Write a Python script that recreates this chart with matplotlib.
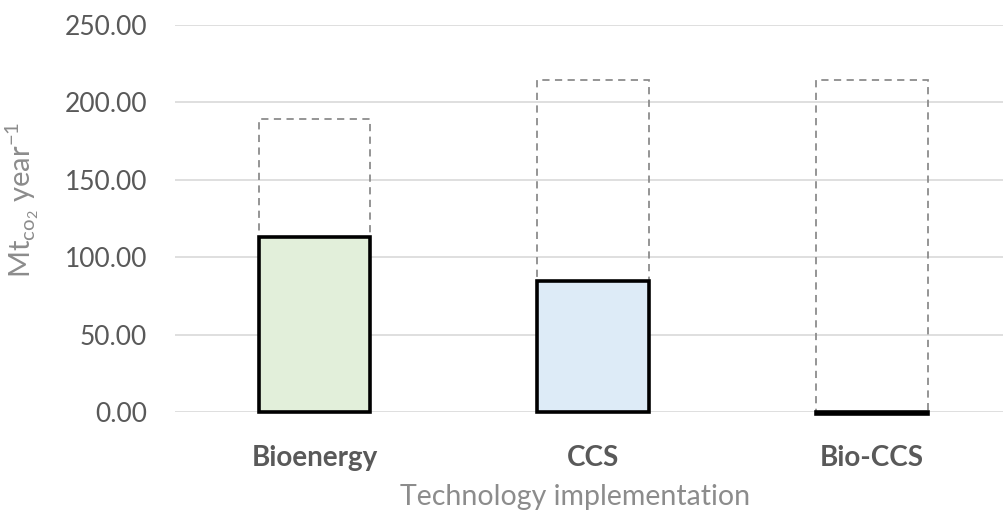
import matplotlib
matplotlib.use("Agg")
import matplotlib.pyplot as plt
import numpy as np

# data
categories = ["Bioenergy", "CCS", "Bio-CCS"]
implemented = [113.0, 84.6, -1.2]      # solid bars
potential = [189.3, 214.5, 214.5]      # dashed outline bars
fill_colors = ["#E2EFDA", "#DDEBF7", "#FFFFFF"]
yticks = [0, 50, 100, 150, 200, 250]

plt.rcParams['font.family'] = ['Lato', 'DejaVu Sans']

fig = plt.figure(figsize=(10.04, 5.18), dpi=100)
ax = fig.add_axes([175 / 1004, 1 - 412 / 518, 1 - 175 / 1004, (412 - 25) / 518])

x = np.arange(len(categories))
width = 0.40

# dashed outline for the potential
ax.bar(x, potential, width, facecolor='none', edgecolor='#8c8c8c',
       linewidth=1.3, linestyle=(0, (4, 3)), zorder=2)
# solid bars for the implemented part
ax.bar(x, implemented, width, color=fill_colors, edgecolor='black',
       linewidth=2.6, zorder=3, clip_on=False)

ax.set_ylim(0, 250)
ax.set_xlim(-0.5, 2 + (1004 - 872) / 279)
ax.set_yticks(yticks)
ax.set_yticklabels([f"{v:.2f}" for v in yticks], color='#595959', fontsize=19)
ax.set_xticks(x)
ax.set_xticklabels(categories, fontweight='bold', color='#595959', fontsize=20)
ax.tick_params(axis='both', length=0)
ax.tick_params(axis='y', pad=20)
ax.tick_params(axis='x', pad=24)

ax.yaxis.grid(True, color='#d9d9d9', linewidth=1.2, zorder=0)
ax.set_axisbelow(True)
for s in ax.spines.values():
    s.set_visible(False)

fig.text(575 / 1004, 1 - 497 / 518, "Technology implementation",
         ha='center', va='center', color='#8c8c8c', fontsize=20.5)
fig.text(22 / 1004, 1 - 200 / 518, r"Mt$_{\mathregular{co_2}}$ year$^{\mathregular{-1}}$",
         rotation=90, ha='center', va='center', color='#8c8c8c', fontsize=21)

fig.savefig("out.png", dpi=100)
